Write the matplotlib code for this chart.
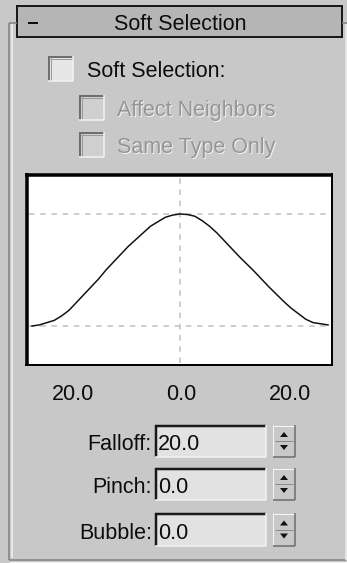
#!/usr/bin/env python3
"""Soft Selection rollout panel with its falloff curve."""

import matplotlib
matplotlib.use("Agg")
import matplotlib.pyplot as plt
from matplotlib.patches import Rectangle, Polygon

W, H = 347, 563
BG = "#c8c8c8"
FONT = "Liberation Sans"
INK = "#0c0c0c"

# falloff curve (distance, weight)
falloff_x = list(range(-20, 21))
falloff_y = [0.00, 0.01, 0.03, 0.05, 0.09, 0.14, 0.21, 0.28, 0.35, 0.42,
             0.50, 0.57, 0.64, 0.71, 0.77, 0.83, 0.89, 0.93, 0.97, 0.99,
             1.00,
             0.995, 0.98, 0.94, 0.89, 0.83, 0.76, 0.69, 0.62, 0.555, 0.49,
             0.42, 0.35, 0.285, 0.22, 0.16, 0.11, 0.06, 0.03, 0.02, 0.01]

tick_labels = ["20.0", "0.0", "20.0"]
tick_label_x = [73, 181, 290]

checkbox_labels = ["Soft Selection:", "Affect Neighbors", "Same Type Only"]
checkbox_enabled = [True, False, False]

field_names = ["Falloff:", "Pinch:", "Bubble:"]
field_values = ["20.0", "0.0", "0.0"]

PX = 0.72  # one pixel in points at dpi 100


def hline(ax, x0, x1, y, color, lw=1):
    ax.plot([x0, x1], [y, y], color=color, lw=lw * PX, solid_capstyle="butt")


def vline(ax, x, y0, y1, color, lw=1):
    ax.plot([x, x], [y0, y1], color=color, lw=lw * PX, solid_capstyle="butt")


def label(ax, x, y, s, ha="left", color=INK):
    ax.text(x, y, s, ha=ha, va="baseline", fontsize=15.5, family=FONT,
            color=color)


def checkbox(ax, x, y, size, enabled):
    ax.add_patch(Rectangle((x, y), size, size,
                           facecolor="#e6e6e6" if enabled else "#cfcfcf",
                           edgecolor="none"))
    hline(ax, x, x + size, y + 1, "#6e6e6e", 2)
    vline(ax, x + 1, y, y + size, "#6e6e6e", 2)
    hline(ax, x + 2, x + size, y + 3, "#9a9a9a", 1)
    vline(ax, x + 3, y + 2, y + size, "#9a9a9a", 1)
    hline(ax, x, x + size, y + size, "#f4f4f4", 1.5)
    vline(ax, x + size, y, y + size, "#f4f4f4", 1.5)


def spinner_field(ax, name, value, y0, y1):
    base = y1 - 7
    label(ax, 152, base, name, ha="right")
    # sunken text box
    ax.add_patch(Rectangle((155, y0), 111, y1 - y0,
                           facecolor="#e2e2e2", edgecolor="none"))
    hline(ax, 155, 266, y0 + 1, "#1a1a1a", 2.5)
    vline(ax, 156, y0, y1, "#1a1a1a", 2.5)
    hline(ax, 155, 266, y1, "#f2f2f2", 1.5)
    vline(ax, 266, y0, y1, "#f2f2f2", 1.5)
    label(ax, 158, base, value)
    # up / down spinner button
    ax.add_patch(Rectangle((273, y0), 22, y1 - y0,
                           facecolor="#c8c8c8", edgecolor="none"))
    hline(ax, 273, 295, y0 + 0.5, "#f4f4f4", 1)
    vline(ax, 273.5, y0, y1, "#f4f4f4", 1)
    hline(ax, 273, 295, y1, "#6a6a6a", 1.5)
    vline(ax, 295, y0, y1, "#6a6a6a", 1.5)
    mid = (y0 + y1) / 2
    hline(ax, 275, 293, mid, "#8a8a8a", 1)
    cx = 284
    ax.add_patch(Polygon([[cx - 4, mid - 4], [cx + 4, mid - 4], [cx, mid - 9]],
                         closed=True, facecolor="#111111", edgecolor="none"))
    ax.add_patch(Polygon([[cx - 4, mid + 4], [cx + 4, mid + 4], [cx, mid + 9]],
                         closed=True, facecolor="#111111", edgecolor="none"))


def main():
    fig = plt.figure(figsize=(W / 100, H / 100), dpi=100)
    fig.patch.set_facecolor(BG)
    ax = fig.add_axes([0, 0, 1, 1])
    ax.set_xlim(0, W)
    ax.set_ylim(H, 0)
    ax.axis("off")

    # group frame (etched)
    vline(ax, 9, 23, 560, "#808080", 1.5)
    vline(ax, 12, 23, 558, "#f2f2f2", 1.5)
    hline(ax, 9, 17, 23, "#808080", 1.5)
    hline(ax, 9, 346, 560, "#808080", 1.5)
    hline(ax, 9, 347, 562, "#f2f2f2", 1)
    hline(ax, 342, 347, 23, "#808080", 1.5)
    vline(ax, 346, 24, 560, "#eeeeee", 1.5)

    # rollout title bar
    ax.add_patch(Rectangle((17, 6), 325, 31, facecolor="#b5b5b5",
                           edgecolor="#1a1a1a", lw=2 * PX))
    hline(ax, 28, 38, 23, INK, 2)
    label(ax, 180, 30, "Soft Selection", ha="center")

    # checkboxes
    box_pos = [(48, 56), (79, 95), (79, 132)]
    base_y = [77, 116, 153]
    for (bx, by), text, on, by_txt in zip(box_pos, checkbox_labels,
                                          checkbox_enabled, base_y):
        checkbox(ax, bx, by, 25, on)
        tx = bx + 39 if on else bx + 38
        if on:
            label(ax, tx, by_txt, text)
        else:
            label(ax, tx + 1, by_txt + 1, text, color="#f2f2f2")
            label(ax, tx, by_txt, text, color="#959595")

    # graph frame
    ax.add_patch(Rectangle((26, 174), 307, 191, facecolor="white",
                           edgecolor="none"))
    hline(ax, 25, 333, 175, "#000000", 3.5)
    vline(ax, 27, 173, 366, "#000000", 3.5)
    hline(ax, 25, 333, 364.5, "#000000", 2)
    vline(ax, 332, 173, 366, "#000000", 2)

    # falloff graph
    gx0, gx1, gy0, gy1 = 29, 331, 177, 363
    gax = fig.add_axes([gx0 / W, 1 - gy1 / H, (gx1 - gx0) / W, (gy1 - gy0) / H])
    gax.set_facecolor("white")
    gax.set_xlim(-20.4, 20.4)
    gax.set_ylim(-0.33, 1.33)
    for s in gax.spines.values():
        s.set_visible(False)
    gax.set_xticks([])
    gax.set_yticks([])
    dash = dict(color="#c4c4c4", lw=1.6 * PX, dashes=(3.5, 3.5))
    gax.axvline(0, **dash)
    gax.axhline(1, **dash)
    gax.axhline(0, **dash)
    gax.plot(falloff_x, falloff_y, color="#111111", lw=1.5 * PX)

    # range labels under the graph
    for xpix, lab in zip(tick_label_x, tick_labels):
        label(ax, xpix, 400, lab, ha="center")

    rows = [(425, 457), (468, 500), (513, 546)]
    for name, value, (y0, y1) in zip(field_names, field_values, rows):
        spinner_field(ax, name, value, y0, y1)

    fig.savefig("out.png", dpi=100, facecolor=BG)


if __name__ == "__main__":
    main()
